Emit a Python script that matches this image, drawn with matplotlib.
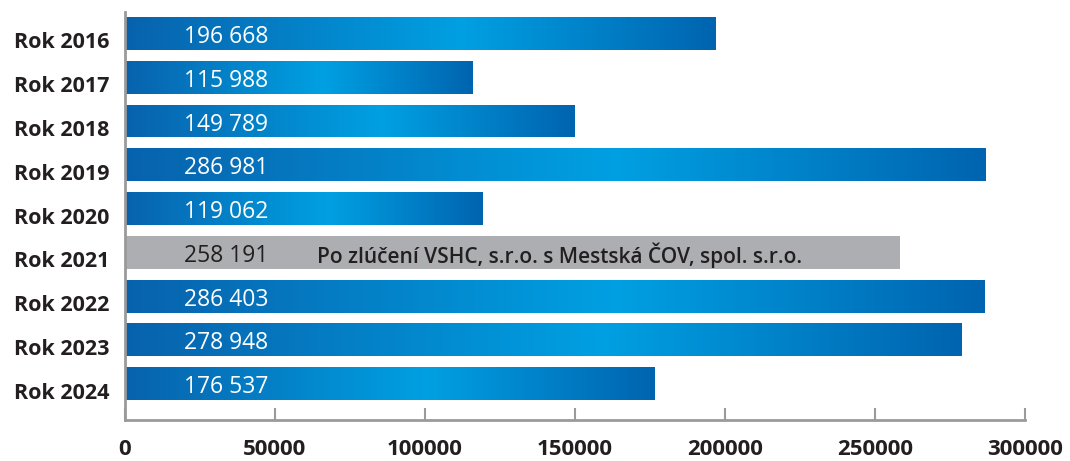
import numpy as np
import matplotlib.pyplot as plt
from matplotlib.colors import LinearSegmentedColormap
from matplotlib.transforms import ScaledTranslation

years = ["Rok 2016", "Rok 2017", "Rok 2018", "Rok 2019", "Rok 2020",
         "Rok 2021", "Rok 2022", "Rok 2023", "Rok 2024"]
values = [196668, 115988, 149789, 286981, 119062, 258191, 286403, 278948, 176537]
value_labels = ["196 668", "115 988", "149 789", "286 981", "119 062",
                "258 191", "286 403", "278 948", "176 537"]
gray_year = "Rok 2021"
note = "Po zlúčení VSHC, s.r.o. s Mestská ČOV, spol. s.r.o."
xticks = [0, 50000, 100000, 150000, 200000, 250000, 300000]

plt.rcParams['font.family'] = ['Open Sans', 'DejaVu Sans']

blue = LinearSegmentedColormap.from_list(
    "bluegrad", [(0.0, "#0862ad"), (0.57, "#00a0e2"), (1.0, "#0064b0")])
grad = np.linspace(0, 1, 256).reshape(1, -1)

fig = plt.figure(figsize=(10.7, 4.61), dpi=100)
ax = fig.add_axes([125 / 1070, 41 / 461, 900 / 1070, 408 / 461])

y = np.arange(len(years))
bars = ax.barh(y, values, height=0.75, color="none", edgecolor="none")

for yr, bar, lab, yy in zip(years, bars, value_labels, y):
    x0, w = bar.get_x(), bar.get_width()
    yb, h = bar.get_y(), bar.get_height()
    if yr == gray_year:
        bar.set_facecolor("#adaeb1")
        ax.text(19500, yy + 0.08, lab, color="#231f20", fontsize=16.5,
                fontweight="medium", va="center", ha="left")
        ax.text(64000, yy + 0.06, note, color="#231f20", fontsize=15,
                fontweight="semibold", va="center", ha="left")
    else:
        im = ax.imshow(grad, cmap=blue, aspect="auto",
                       extent=(x0, x0 + w, yb + h, yb), zorder=2)
        im.set_clip_path(bar)
        ax.text(19500, yy + 0.08, lab, color="white", fontsize=16.5,
                fontweight="medium", va="center", ha="left", zorder=3)

ax.set_xlim(0, 300000)
ax.set_ylim(8.83, -0.49)
ax.set_aspect("auto")

ax.set_yticks(y)
ax.set_yticklabels(years, fontsize=15.5, fontweight="bold", color="#231f20")
ax.tick_params(axis="y", length=0, pad=11)
shift = ScaledTranslation(0, -5 / 72, fig.dpi_scale_trans)
for t in ax.get_yticklabels():
    t.set_transform(t.get_transform() + shift)

ax.set_xticks(xticks)
ax.set_xticklabels([str(t) for t in xticks], fontsize=16, fontweight="bold",
                   color="#231f20")
ax.tick_params(axis="x", direction="in", length=9, width=1.5, color="#9a9a9a",
               pad=14)

for s in ["top", "right"]:
    ax.spines[s].set_visible(False)
for s in ["left", "bottom"]:
    ax.spines[s].set_color("#9a9a9a")
    ax.spines[s].set_linewidth(2)

fig.savefig("out.png", dpi=100)
